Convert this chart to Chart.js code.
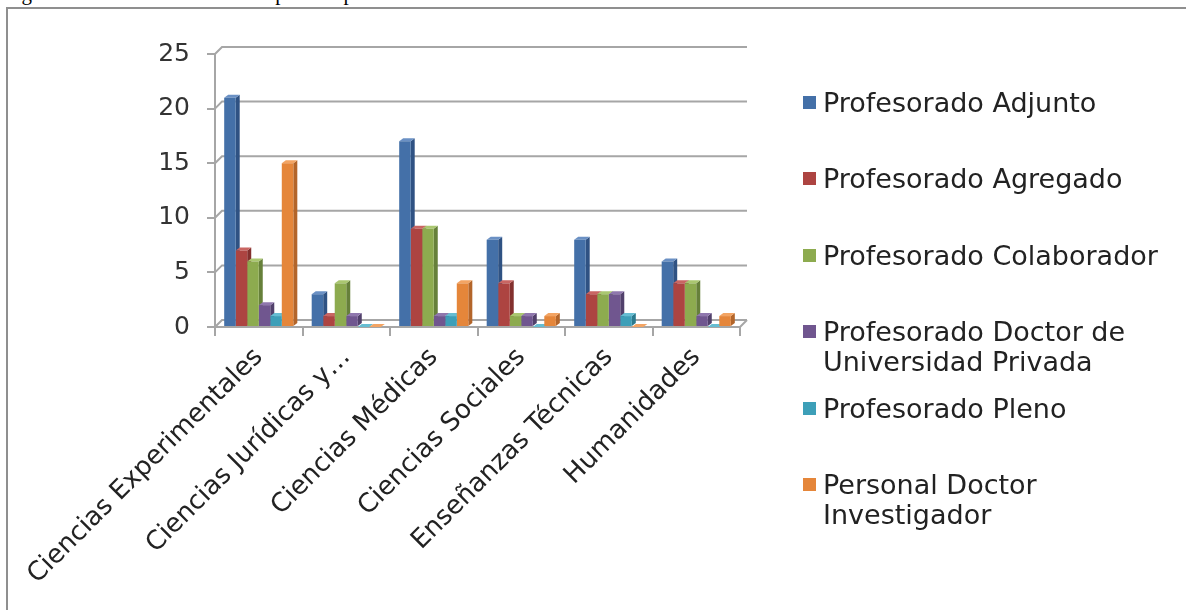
<!DOCTYPE html>
<html>
<head>
<meta charset="utf-8">
<script src="https://cdn.jsdelivr.net/npm/chart.js@4/dist/chart.umd.min.js"></script>
<style>
  html, body { margin: 0; padding: 0; background: #fff; overflow: hidden; }
  #wrap { position: relative; width: 1186px; height: 610px; overflow: hidden; }
  #marco { position: absolute; left: 6px; top: 7px; width: 1200px; height: 620px;
           border-top: 2px solid #8f8f8f; border-left: 2px solid #8f8f8f; }
  #pie { position: absolute; left: 4px; top: -17px; font: 21px "Liberation Serif"; line-height: 21px; white-space: nowrap; color: #000; }
  canvas { position: absolute; left: 0; top: 0; }
  #leyenda { position: absolute; left: 803px; top: 88px; font: 27px "DejaVu Sans"; color: #222; }
  .item { position: relative; height: 76.4px; }
  .cuadro { position: absolute; left: 0; top: 8px; width: 13px; height: 13px; }
  .texto { position: absolute; left: 20px; top: 0; width: 360px; line-height: 30px; }
</style>
</head>
<body>
<div id="wrap">
  <div id="pie">Figura 4. Resultados favorables por campo de conocimiento</div>
  <div id="marco"></div>
  <canvas id="grafica" width="1186" height="610"></canvas>
  <div id="leyenda"></div>
</div>
<script>
// datos
const campos = ["Ciencias Experimentales", "Ciencias Jurídicas y…", "Ciencias Médicas",
  "Ciencias Sociales", "Enseñanzas Técnicas", "Humanidades"];
const series = ["Profesorado Adjunto", "Profesorado Agregado", "Profesorado Colaborador",
  "Profesorado Doctor de Universidad Privada", "Profesorado Pleno", "Personal Doctor Investigador"];
const adjunto = [21, 3, 17, 8, 8, 6];
const agregado = [7, 1, 9, 4, 3, 4];
const colaborador = [6, 4, 9, 1, 3, 4];
const doctorPrivada = [2, 1, 1, 1, 3, 1];
const pleno = [1, 0, 1, 0, 1, 0];
const personalDoctor = [15, 0, 4, 1, 0, 1];
const ticksY = [0, 5, 10, 15, 20, 25];

const colores = ["#4470a8", "#ad4441", "#8dab4f", "#70568f", "#3d9fb8", "#e5863a"];
const lados = ["#2f5283", "#83302e", "#66803a", "#51406b", "#2a7a8e", "#b3652a"];
const tapas = ["#6a90c4", "#c96562", "#aac770", "#8f77ad", "#66bdd2", "#f3a463"];

const valores = [adjunto, agregado, colaborador, doctorPrivada, pleno, personalDoctor];

// leyenda en html
const ley = document.getElementById("leyenda");
series.forEach((s, i) => {
  const it = document.createElement("div");
  it.className = "item";
  it.innerHTML = '<div class="cuadro" style="background:' + colores[i] + '"></div><div class="texto">' + s + '</div>';
  ley.appendChild(it);
});

// caras laterales y superiores, paredes de la grafica
const tresD = {
  id: "tresD",
  beforeDatasetsDraw(chart) {
    const ctx = chart.ctx, ca = chart.chartArea, y = chart.scales.y;
    const dx = 7, dy = 7;
    ctx.save();
    ctx.strokeStyle = "#a6a6a6";
    ctx.lineWidth = 2;
    y.ticks.forEach(t => {
      const py = y.getPixelForValue(t.value);
      ctx.beginPath();
      ctx.moveTo(ca.left, py);
      ctx.lineTo(ca.left + dx, py - dy);
      ctx.lineTo(ca.right + dx, py - dy);
      ctx.stroke();
    });
    const p0 = y.getPixelForValue(0);
    ctx.beginPath();
    ctx.moveTo(ca.right, p0);
    ctx.lineTo(ca.right + dx, p0 - dy);
    ctx.stroke();

    chart.data.datasets.forEach((ds, i) => {
      chart.getDatasetMeta(i).data.forEach(bar => {
        const w = bar.width, x0 = bar.x - w / 2, x1 = bar.x + w / 2;
        const top = bar.y, base = bar.base, d = 4, e = 3;
        ctx.fillStyle = lados[i];
        ctx.beginPath();
        ctx.moveTo(x1, top); ctx.lineTo(x1 + d, top - e);
        ctx.lineTo(x1 + d, base - e); ctx.lineTo(x1, base);
        ctx.closePath(); ctx.fill();
        ctx.fillStyle = tapas[i];
        ctx.beginPath();
        ctx.moveTo(x0, top); ctx.lineTo(x0 + d, top - e);
        ctx.lineTo(x1 + d, top - e); ctx.lineTo(x1, top);
        ctx.closePath(); ctx.fill();
      });
    });
    ctx.restore();
  }
};

const data = {
  labels: campos,
  datasets: series.map((s, i) => ({
    label: s,
    data: valores[i],
    backgroundColor: colores[i],
    borderWidth: 0,
    barPercentage: 1,
    categoryPercentage: 0.79
  }))
};

const config = {
  type: "bar",
  data,
  options: {
    responsive: false,
    animation: false,
    devicePixelRatio: 1,
    layout: { padding: { left: 0, top: 54, right: 446, bottom: 0 } },
    plugins: { legend: { display: false }, tooltip: { enabled: false } },
    scales: {
      x: {
        z: 1,
        grid: { offset: true, drawOnChartArea: false, drawTicks: true, tickLength: 9, color: "#a6a6a6", lineWidth: 2 },
        border: { display: true, color: "#a6a6a6", width: 2 },
        ticks: { autoSkip: false, maxRotation: 45, minRotation: 45, padding: 6, color: "#222",
                 font: { family: "DejaVu Sans", size: 26 } },
        afterFit: s => { s.height = 283; }
      },
      y: {
        min: 0,
        max: 25,
        afterBuildTicks: s => { s.ticks = ticksY.map(v => ({ value: v })); },
        grid: { drawOnChartArea: false, drawTicks: true, tickLength: 8, color: "#a6a6a6", lineWidth: 2 },
        border: { display: true, color: "#a6a6a6", width: 2 },
        ticks: { padding: 17, color: "#333", font: { family: "DejaVu Sans", size: 25 } },
        afterFit: s => { s.width = 215; }
      }
    }
  },
  plugins: [tresD]
};

var grafica = new Chart(document.getElementById("grafica"), config);
</script>
</body>
</html>
